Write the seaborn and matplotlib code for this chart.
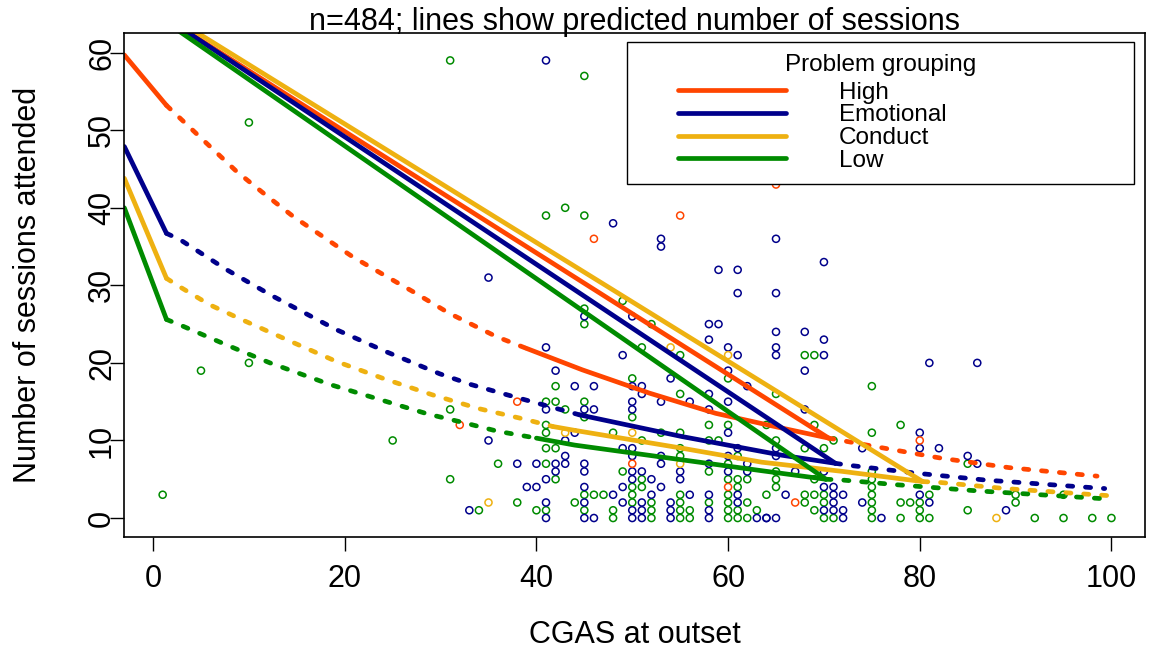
import numpy as np
import pandas as pd
import matplotlib
matplotlib.use("Agg")
import matplotlib.pyplot as plt
import seaborn as sns
from matplotlib.lines import Line2D
from matplotlib.legend_handler import HandlerLine2D

groups = ["High", "Emotional", "Conduct", "Low"]
colors = ["#FF4500", "#00008B", "#EEB111", "#008B00"]

# observed children: CGAS at outset vs sessions attended
high_x = [38, 32, 50, 60, 67, 80, 65, 46, 55]
high_y = [15, 12, 7, 4, 2, 10, 43, 36, 39]

cond_x = [35, 43, 54, 60, 50, 55, 88]
cond_y = [2, 11, 22, 21, 11, 7, 0]

emo_x = [41, 48, 53, 53, 65, 35, 59, 61, 70, 61, 65,
         65, 68, 65, 65, 70, 70, 68, 58, 59, 58, 50, 45, 49, 60, 61, 60, 81, 86,
         41, 42, 44, 41, 44, 43, 35, 43, 38, 40, 42, 43, 42, 41, 39, 40, 41, 33, 41,
         54, 50, 51, 51, 46, 62, 58, 53, 56, 60, 50, 50, 45, 46, 58, 60, 49, 50, 61,
         50, 53, 60, 45, 45, 53, 58, 62, 50, 51, 55, 60, 62, 50, 52, 55, 45, 49, 53,
         48, 52, 56, 58, 61, 45, 49, 51, 54, 61, 50, 51, 54, 58, 45, 46, 50, 51, 54,
         58, 63, 64,
         68, 80, 80, 82, 74, 65, 65, 67, 70, 70, 71, 66, 71, 72, 80, 71, 74, 81, 70,
         71, 72, 64, 65, 72, 76, 85, 86, 89]
emo_y = [59, 38, 36, 35, 36, 31, 32, 32, 33, 29, 29,
         24, 24, 22, 21, 23, 21, 19, 25, 25, 23, 26, 26, 21, 22, 21, 19, 20, 20,
         22, 19, 17, 14, 11, 10, 10, 8, 7, 7, 7, 7, 6, 5, 4, 4, 2, 1, 0,
         18, 17, 17, 16, 17, 17, 16, 15, 15, 15, 15, 14, 14, 14, 14, 11, 9, 9, 9,
         8, 8, 8, 7, 6, 7, 7, 7, 6, 6, 6, 6, 6, 5, 5, 5, 4, 4, 4,
         3, 3, 3, 3, 3, 2, 2, 2, 2, 2, 1, 1, 1, 1, 0, 0, 0, 0, 0,
         0, 0, 0,
         14, 11, 9, 9, 9, 9, 8, 6, 6, 4, 4, 3, 3, 3, 3, 2, 2, 2, 1,
         1, 1, 0, 0, 0, 0, 8, 7, 1]

low_x = [1, 5, 10, 10, 31, 45, 41, 45, 43, 25, 31, 31, 36, 34, 38,
         45, 45, 49, 52, 51, 55, 68, 69,
         42, 41, 42, 43, 41, 41, 41, 42, 41, 42, 44, 40, 41,
         60, 50, 55, 45, 50, 45, 48, 58, 60, 55, 53, 51, 58, 59, 55, 55, 61, 60,
         49, 58, 51, 60, 61, 62, 50, 51, 61, 45, 46, 47, 50, 55, 60, 50, 52, 55,
         58, 60, 62, 45, 48, 52, 55, 56, 60, 61, 63, 48, 52, 55, 56, 60, 61, 62,
         75, 65, 69, 78, 75, 71, 70, 65, 65, 65, 65, 69, 75, 75, 75, 64, 68, 69,
         70, 75, 81, 68, 70, 75, 78, 79, 80, 69, 75, 80, 70, 71, 75, 78, 80, 81,
         64, 68, 85, 90, 90, 95, 85, 92, 95, 98, 100]
low_y = [3, 19, 20, 51, 59, 57, 39, 39, 40, 10, 14, 5, 7, 1, 2,
         27, 25, 28, 25, 22, 21, 21, 21,
         17, 15, 15, 14, 12, 11, 9, 9, 7, 5, 2, 1, 1,
         18, 18, 16, 15, 13, 13, 11, 12, 12, 11, 11, 10, 10, 10, 9, 8, 8, 7,
         6, 6, 5, 5, 5, 5, 4, 4, 4, 3, 3, 3, 3, 3, 3, 2, 2, 2,
         2, 2, 2, 1, 1, 1, 1, 1, 1, 1, 1, 0, 0, 0, 0, 0, 0, 0,
         17, 16, 12, 12, 11, 10, 9, 10, 6, 5, 4, 5, 6, 5, 4, 3, 3, 3,
         3, 3, 3, 2, 2, 2, 2, 2, 2, 1, 1, 1, 0, 0, 0, 0, 0, 0,
         12, 9, 7, 3, 2, 3, 1, 0, 0, 0, 0]

# predicted sessions: steep part left of 0, curve, observed CGAS range, line back to CGAS 0
high_left_x = [-3, 1.4]
high_left_y = [59.7, 53.2]
high_curve_x = [1.4, 5.6, 8.7, 11.5, 14.6, 17.7, 20.8, 24.0, 27.1, 30.9, 35.8, 38.9,
                44.8, 51.8, 58.7, 65.6, 70.5, 75.4, 82.3, 89.3, 98.5]
high_curve_y = [53.2, 48.3, 44.7, 41.9, 38.9, 36.3, 33.7, 31.4, 29.2, 26.4, 23.4, 21.9,
                19.1, 16.1, 13.5, 11.6, 10.3, 9.2, 7.7, 6.5, 5.4]
high_range = [38.9, 70.5]
high_back_y = 65.5

emo_left_x = [-3, 1.4]
emo_left_y = [47.9, 36.7]
emo_curve_x = [1.4, 2.8, 7.7, 12.5, 19.1, 24.4, 29.9, 33.2, 36.9, 40.4, 44.5,
               55.2, 65.6, 71.2, 72.6, 79.5, 86.8, 99.3]
emo_curve_y = [36.7, 35.9, 32.0, 28.6, 24.3, 21.4, 18.6, 17.2, 15.9, 14.7, 13.3,
               10.5, 8.1, 7.05, 6.8, 5.8, 4.9, 3.8]
emo_range = [44.5, 71.2]
emo_back_y = 65.6

cond_left_x = [-3, 1.4]
cond_left_y = [43.8, 30.9]
cond_curve_x = [1.4, 2.8, 5.9, 9.4, 14.3, 19.1, 24.0, 29.1, 34.0, 38.9, 41.7, 44.0,
                55.2, 63.5, 72.0, 80.3, 82.0, 88.9, 99.5]
cond_curve_y = [30.9, 29.8, 27.5, 25.5, 22.8, 20.2, 18.0, 15.9, 14.1, 12.7, 11.8, 11.3,
                9.0, 7.2, 6.0, 4.7, 4.6, 3.8, 2.9]
cond_range = [41.7, 80.3]
cond_back_y = 66.1

low_left_x = [-3, 1.4]
low_left_y = [40.0, 25.6]
low_curve_x = [1.4, 2.8, 7.7, 12.2, 18.5, 25.2, 28.7, 32.4, 35.9, 40.0, 44.0,
               55.2, 63.5, 70.2, 71.9, 77.5, 86.0, 95.2, 99.0]
low_curve_y = [25.6, 24.9, 22.3, 20.0, 17.2, 14.7, 13.4, 12.3, 11.2, 10.3, 9.4,
               7.5, 6.1, 5.0, 4.9, 4.3, 3.5, 2.8, 2.5]
low_range = [40.0, 70.2]
low_back_y = 65.1

pts = pd.concat([
    pd.DataFrame({"cgas": low_x, "sessions": low_y, "group": "Low"}),
    pd.DataFrame({"cgas": emo_x, "sessions": emo_y, "group": "Emotional"}),
    pd.DataFrame({"cgas": high_x, "sessions": high_y, "group": "High"}),
    pd.DataFrame({"cgas": cond_x, "sessions": cond_y, "group": "Conduct"}),
], ignore_index=True)

curves = [
    (high_left_x, high_left_y, high_curve_x, high_curve_y, high_range, high_back_y),
    (emo_left_x, emo_left_y, emo_curve_x, emo_curve_y, emo_range, emo_back_y),
    (cond_left_x, cond_left_y, cond_curve_x, cond_curve_y, cond_range, cond_back_y),
    (low_left_x, low_left_y, low_curve_x, low_curve_y, low_range, low_back_y),
]

sns.set_style("white")
plt.rcParams["font.family"] = ["Liberation Sans", "DejaVu Sans"]
for key in ["text.color", "axes.labelcolor", "xtick.color", "ytick.color"]:
    plt.rcParams[key] = "black"

fig = plt.figure(figsize=(11.49, 6.55), dpi=100)
ax = fig.add_axes([0.1082, 0.1806, 0.8883, 0.7686])

sns.scatterplot(data=pts, x="cgas", y="sessions", hue="group", hue_order=groups,
                palette=colors, s=26, linewidth=1.1, legend=False, ax=ax)
dots = ax.collections[-1]
dots.set_edgecolors(dots.get_facecolors())
dots.set_facecolors("none")

lw = 3.4
dash = (0, (1.1, 2.7))
for color, (lx, ly, cx, cy, rng, back) in zip(colors, curves):
    cx = np.array(cx)
    cy = np.array(cy)
    lo, hi = rng
    low_part = cx <= lo
    mid_part = (cx >= lo) & (cx <= hi)
    high_part = cx >= hi
    y_hi = cy[mid_part][-1]
    segs = [
        (lx, ly, "-"),
        (cx[low_part], cy[low_part], dash),
        (cx[mid_part], cy[mid_part], "-"),
        ([hi, 0], [y_hi, back], "-"),
        (cx[high_part], cy[high_part], dash),
    ]
    for sx, sy, ls in segs:
        sns.lineplot(x=sx, y=sy, sort=False, estimator=None, color=color,
                     linewidth=lw, linestyle=ls, dash_capstyle="round",
                     solid_capstyle="round", ax=ax)

ax.set_xlim(-3.0, 103.5)
ax.set_ylim(-2.41, 62.5)
ax.set_xticks([0, 20, 40, 60, 80, 100])
ax.set_yticks([0, 10, 20, 30, 40, 50, 60])
for sp in ax.spines.values():
    sp.set_visible(True)
    sp.set_color("black")
    sp.set_linewidth(1.2)
ax.tick_params(axis="both", direction="out", length=10, width=1.0, color="black",
               labelsize=22, bottom=True, left=True)
ax.tick_params(axis="x", pad=10)
ax.tick_params(axis="y", pad=6)
plt.setp(ax.get_yticklabels(), rotation=90, va="center", ha="center")

ax.set_xlabel("CGAS at outset", fontsize=22)
ax.set_ylabel("Number of sessions attended", fontsize=22)
ax.xaxis.set_label_coords(0.5, -0.165)
ax.yaxis.set_label_coords(-0.08, 0.5)
ax.set_title("n=484; lines show predicted number of sessions", fontsize=22, pad=2)

handles = [Line2D([], [], color=c, linewidth=lw) for c in colors]
leg = ax.legend(handles, groups, title="Problem grouping", loc="upper left",
                bbox_to_anchor=(0.4925, 0.0, 0.4967, 0.9827), mode="expand",
                borderaxespad=0, fontsize=17.5, title_fontsize=17.5,
                handlelength=6.05, handletextpad=2.18, labelspacing=0.03,
                borderpad=0.5, fancybox=False, framealpha=1,
                handler_map={Line2D: HandlerLine2D(xpad=1.6)})
leg._legend_box.sep = 4.0
leg.get_frame().set_edgecolor("black")
leg.get_frame().set_linewidth(1.0)

fig.savefig("out.png", dpi=100)
